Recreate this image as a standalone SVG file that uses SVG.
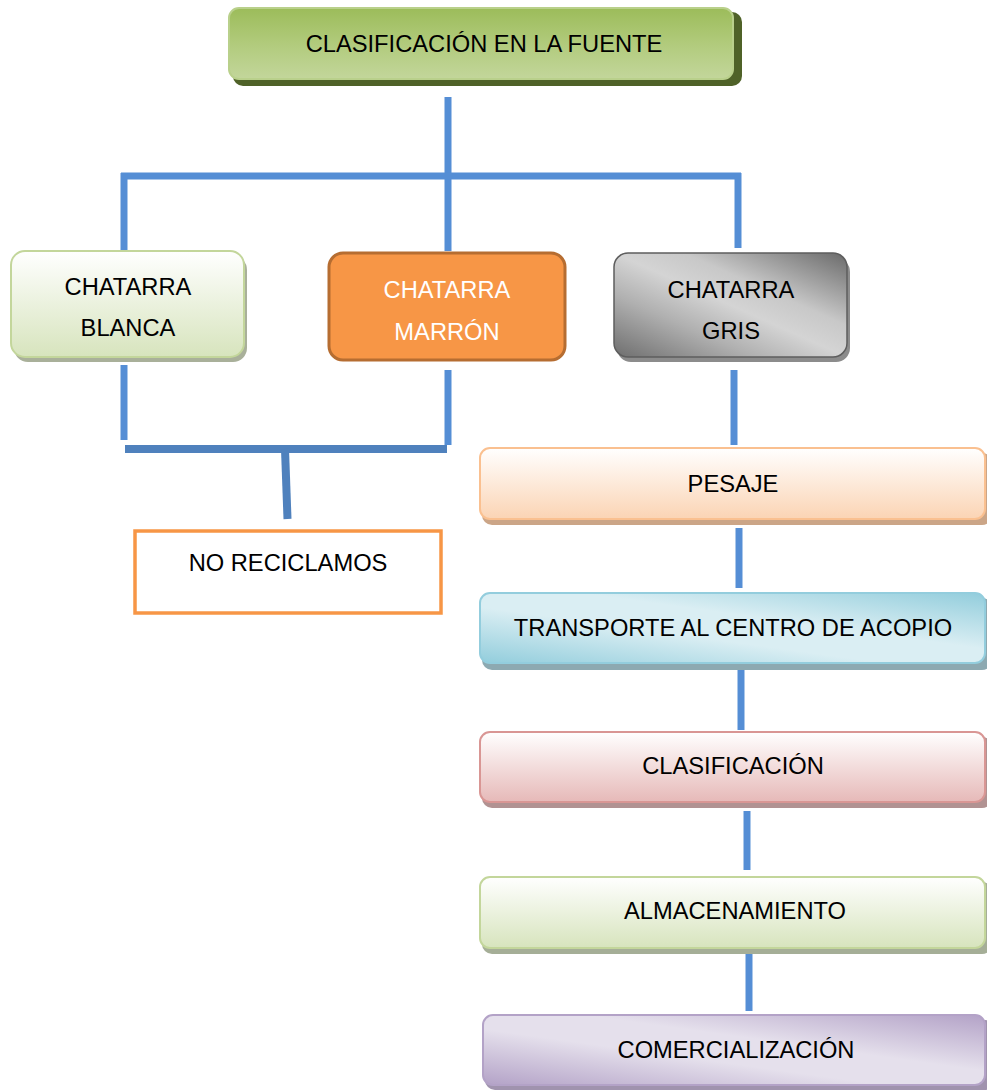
<svg xmlns="http://www.w3.org/2000/svg" width="987" height="1090" viewBox="0 0 987 1090">
<defs>
<linearGradient id="gTop" x1="0" y1="0" x2="0" y2="1"><stop offset="0" stop-color="#9CBC5A"/><stop offset="0.55" stop-color="#B3CC7F"/><stop offset="1" stop-color="#C3D69B"/></linearGradient>
<linearGradient id="gBlanca" x1="0" y1="0" x2="0" y2="1"><stop offset="0" stop-color="#FFFFFF"/><stop offset="1" stop-color="#D7E4BD"/></linearGradient>
<linearGradient id="gGris" x1="0" y1="1" x2="1" y2="0"><stop offset="0" stop-color="#6E6E6E"/><stop offset="0.3" stop-color="#B0B0B0"/><stop offset="0.5" stop-color="#D4D4D4"/><stop offset="0.65" stop-color="#C8C8C8"/><stop offset="1" stop-color="#6A6A6A"/></linearGradient>
<linearGradient id="gPesaje" x1="0" y1="0" x2="0" y2="1"><stop offset="0" stop-color="#FFFFFF"/><stop offset="1" stop-color="#FBD4B4"/></linearGradient>
<linearGradient id="gTrans" x1="0" y1="1" x2="1" y2="0"><stop offset="0" stop-color="#92CDDC"/><stop offset="0.4" stop-color="#DAEEF3"/><stop offset="0.6" stop-color="#DAEEF3"/><stop offset="1" stop-color="#92CDDC"/></linearGradient>
<linearGradient id="gClas" x1="0" y1="0" x2="0" y2="1"><stop offset="0" stop-color="#FFFFFF"/><stop offset="1" stop-color="#E6B9B8"/></linearGradient>
<linearGradient id="gAlm" x1="0" y1="0" x2="0" y2="1"><stop offset="0" stop-color="#FFFFFF"/><stop offset="1" stop-color="#D7E4BD"/></linearGradient>
<linearGradient id="gCom" x1="0" y1="1" x2="1" y2="0"><stop offset="0" stop-color="#B3A2C7"/><stop offset="0.4" stop-color="#E5E0EC"/><stop offset="0.6" stop-color="#E5E0EC"/><stop offset="1" stop-color="#B3A2C7"/></linearGradient>
<filter id="blur" x="-10%" y="-50%" width="120%" height="300%"><feGaussianBlur stdDeviation="2"/></filter>
</defs>
<style>
text{font-family:"Liberation Sans","Open Sans",Arial,sans-serif;font-size:23.7px;fill:#000;text-anchor:middle}
.w{fill:#fff}
.c{stroke:#558ED5;stroke-width:7;fill:none}
.c2{stroke:#4F81BD;stroke-width:8;fill:none}
</style>

<g id="connectors">
<line class="c" x1="448" y1="97" x2="448" y2="251"/>
<line class="c" x1="121" y1="176" x2="741" y2="176"/>
<line class="c" x1="124" y1="173" x2="124" y2="251"/>
<line class="c" x1="738" y1="173" x2="738" y2="248"/>
<line class="c" x1="124" y1="365" x2="124" y2="440"/>
<line class="c" x1="448" y1="370" x2="448" y2="445"/>
<g opacity="0.35" filter="url(#blur)"><line x1="126" y1="453" x2="447" y2="453" stroke="#555" stroke-width="6"/></g>
<line class="c2" x1="125" y1="449" x2="447" y2="449"/>
<line class="c2" x1="285" y1="449" x2="287.5" y2="519" stroke-width="7"/>
<line class="c" x1="734" y1="370" x2="734" y2="445"/>
<line class="c" x1="739" y1="528" x2="739" y2="588"/>
<line class="c" x1="741" y1="670" x2="741" y2="730"/>
<line class="c" x1="747" y1="811" x2="747" y2="870"/>
<line class="c" x1="749" y1="952" x2="749" y2="1011"/>
</g>

<g id="n-fuente">
<rect x="233" y="12" width="509" height="74" rx="10" fill="#4F6228"/>
<rect x="229" y="8" width="504" height="71" rx="10" fill="url(#gTop)" stroke="#B9D08B" stroke-width="2"/>
<text x="484" y="51.5">CLASIFICACIÓN EN LA FUENTE</text>
</g>

<g id="n-blanca">
<rect x="14" y="256" width="233" height="106" rx="14" fill="#A9B09A"/>
<rect x="11" y="251" width="233" height="106" rx="14" fill="url(#gBlanca)" stroke="#C3D69B" stroke-width="2"/>
<text x="128" y="294.5">CHATARRA</text>
<text x="128" y="335.5">BLANCA</text>
</g>

<g id="n-marron">
<rect x="329" y="253" width="236" height="107" rx="14" fill="#F79646" stroke="#B66D31" stroke-width="3"/>
<text class="w" x="447" y="297.5">CHATARRA</text>
<text class="w" x="447" y="339.5">MARRÓN</text>
</g>

<g id="n-gris">
<rect x="617" y="258" width="233" height="104" rx="14" fill="#8C8C8C"/>
<rect x="614" y="253" width="233" height="104" rx="14" fill="url(#gGris)" stroke="#5E5E5E" stroke-width="1.5"/>
<text x="731" y="297.5">CHATARRA</text>
<text x="731" y="338.5">GRIS</text>
</g>

<g id="n-noreciclamos">
<rect x="135" y="531" width="306" height="82" fill="#fff" stroke="#F79646" stroke-width="3.5"/>
<text x="288" y="570.5">NO RECICLAMOS</text>
</g>

<g id="n-pesaje">
<rect x="482" y="453" width="510" height="72" rx="10" fill="#CBA587"/>
<rect x="480" y="448" width="505" height="71" rx="10" fill="url(#gPesaje)" stroke="#FAC090" stroke-width="2"/>
<text x="733" y="491.5">PESAJE</text>
</g>

<g id="n-transporte">
<rect x="482" y="598" width="510" height="72" rx="10" fill="#8DA9B1"/>
<rect x="480" y="593" width="505" height="70" rx="10" fill="url(#gTrans)" stroke="#93CDDD" stroke-width="2"/>
<text x="733" y="635.5">TRANSPORTE AL CENTRO DE ACOPIO</text>
</g>

<g id="n-clasificacion">
<rect x="482" y="737" width="510" height="71" rx="10" fill="#B19292"/>
<rect x="480" y="732" width="505" height="70" rx="10" fill="url(#gClas)" stroke="#D99694" stroke-width="2"/>
<text x="733" y="773.5">CLASIFICACIÓN</text>
</g>

<g id="n-almacenamiento">
<rect x="482" y="882" width="510" height="72" rx="10" fill="#A5AE97"/>
<rect x="480" y="877" width="505" height="71" rx="10" fill="url(#gAlm)" stroke="#C3D69B" stroke-width="2"/>
<text x="735" y="918.5">ALMACENAMIENTO</text>
</g>

<g id="n-comercializacion">
<rect x="485" y="1020" width="510" height="70" rx="10" fill="#A093AE"/>
<rect x="483" y="1015" width="502" height="70" rx="10" fill="url(#gCom)" stroke="#B3A2C7" stroke-width="2"/>
<text x="736" y="1057.5">COMERCIALIZACIÓN</text>
</g>
</svg>
